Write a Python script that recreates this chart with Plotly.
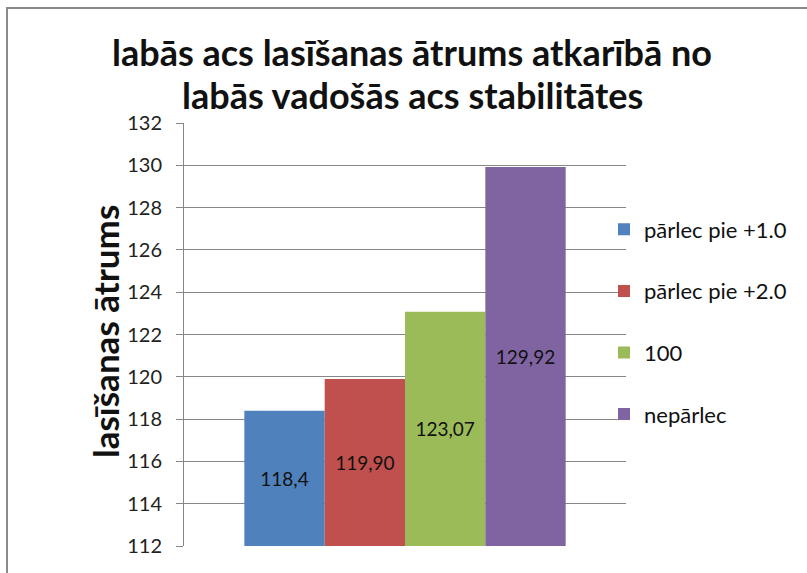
import plotly.graph_objects as go

series = ["pārlec pie +1.0", "pārlec pie +2.0", "100", "nepārlec"]
values = [118.4, 119.90, 123.07, 129.92]
labels = ["118,4", "119,90", "123,07", "129,92"]
colors = ["#4F81BD", "#C0504D", "#9BBB59", "#8064A2"]
category = [""]
y_min, y_max = 112, 132
tick_vals = list(range(112, 133, 2))
title_lines = ["labās acs lasīšanas ātrums atkarībā no", "labās vadošās acs stabilitātes"]
y_title = "lasīšanas ātrums"

FONT = "Lato, 'Open Sans', sans-serif"

fig = go.Figure()
for i, (name, v, lab, c) in enumerate(zip(series, values, labels, colors)):
    fig.add_trace(go.Bar(
        name=name, x=category, y=[v - y_min], base=[y_min],
        marker=dict(color=c, line=dict(width=0)),
        text=[lab], textposition="inside", insidetextanchor="middle",
        textfont=dict(family=FONT, size=19, color="#111111"),
        legendgroup=f"g{i}", hovertemplate=f"{name}: {lab}<extra></extra>",
    ))

L, R, T, B = 184, 181, 123, 27
W, H = 807 - L - R, 573 - T - B

fig.update_layout(
    width=807, height=573,
    margin=dict(l=L, r=R, t=T, b=B, autoexpand=False),
    paper_bgcolor="white", plot_bgcolor="white",
    barmode="group", bargap=0.273, bargroupgap=0,
    yaxis=dict(range=[y_min, y_max], tickvals=tick_vals, ticks="outside", ticklen=7,
               tickcolor="#868686", showline=True, linecolor="#868686", linewidth=1,
               gridcolor="#868686", gridwidth=1, zeroline=False, automargin=False,
               ticklabelstandoff=10,
               tickfont=dict(family=FONT, size=20, color="#222222")),
    xaxis=dict(showticklabels=False, showline=False, ticks="", automargin=False),
    legend=dict(xref="container", yref="container", x=604 / 807, xanchor="left",
                y=1 - 322 / 573, yanchor="middle",
                font=dict(family=FONT, size=22, color="#111111"),
                tracegroupgap=30, bgcolor="rgba(0,0,0,0)"),
    showlegend=True,
)

for j, (line, yc) in enumerate(zip(title_lines, [52, 95])):
    fig.add_annotation(text=f"<b>{line}</b>", xref="paper", yref="paper",
                       x=(412 - L) / W, y=1 + (T - yc) / H, xanchor="center", yanchor="middle",
                       showarrow=False, font=dict(family=FONT, size=36, color="#111111"))

fig.add_annotation(text=f"<b>{y_title}</b>", xref="paper", yref="paper", textangle=-90,
                   x=(105 - L) / W, y=1 - (332 - T) / H, xanchor="center", yanchor="middle",
                   showarrow=False, font=dict(family=FONT, size=35, color="#111111"))

fig.add_shape(type="rect", xref="paper", yref="paper",
              x0=(7 - L) / W, x1=2.0, y0=-0.5, y1=1 + (T - 8) / H,
              line=dict(color="#8a8a8a", width=2), fillcolor="rgba(0,0,0,0)", layer="below")

fig.write_html("out.html", post_script="document.body.style.margin='0';",
               config={"displayModeBar": False})
